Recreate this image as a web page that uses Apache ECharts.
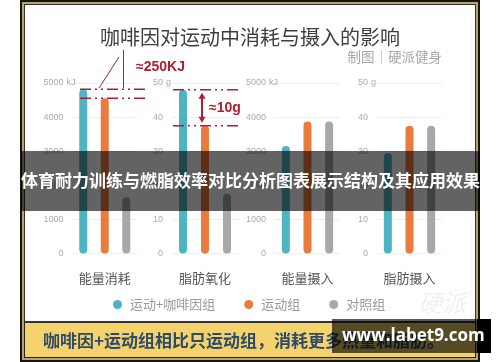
<!DOCTYPE html>
<html>
<head>
<meta charset="utf-8">
<script src="https://cdn.jsdelivr.net/npm/echarts@6/dist/echarts.min.js"></script>
<style>html,body{margin:0;padding:0;background:#fff}#c{width:500px;height:362px}</style>
</head>
<body>
<div id="c"></div>
<script>
// ---- data ----
const categories = ['能量消耗', '脂肪氧化', '能量摄入', '脂肪摄入'];
const groups = ['运动+咖啡因组', '运动组', '对照组'];
const units = ['kJ', 'g', 'kJ', 'g'];
const axisMax = [5000, 50, 5000, 50];
const axisInterval = [1000, 10, 1000, 10];
const caffeineExercise = [4820, 48, 3150, 29.5];
const exerciseOnly = [4550, 37.5, 3870, 37.5];
const control = [1650, 17.5, 3870, 37.5];
const diffLabels = ['≈250KJ', '≈10g'];
const titleText = '咖啡因对运动中消耗与摄入的影响';
const creditText = '制图｜硬派健身';
const bannerText = '体育耐力训练与燃脂效率对比分析图表展示结构及其应用效果';
const footerText = '咖啡因+运动组相比只运动组，消耗更多热量和脂肪。';
const siteText = 'www.labet9.com';

const colors = ['#4db4c1', '#e97b3c', '#a9a7ab'];
const seriesValues = [caffeineExercise, exerciseOnly, control];
const gridLefts = [72.5, 172, 275, 377];
const gridWidths = [64.5, 66, 65, 65];
const CJK = '"Noto Sans CJK SC", "Noto Sans", sans-serif';
const LAT = '"Liberation Sans", sans-serif';

const grids = [], xAxes = [], yAxes = [], series = [];
categories.forEach((cat, p) => {
  grids.push({ left: gridLefts[p], width: gridWidths[p], top: 83, bottom: 108.5 });
  xAxes.push({
    type: 'category', gridIndex: p, data: groups,
    axisLine: { show: false }, axisTick: { show: false }, axisLabel: { show: false },
    name: cat, nameLocation: 'middle', nameGap: 18.5,
    nameTextStyle: { fontSize: 13, color: '#555', fontFamily: CJK }
  });
  yAxes.push({
    type: 'value', gridIndex: p, min: 0, max: axisMax[p], interval: axisInterval[p],
    axisLine: { show: false }, axisTick: { show: false },
    axisLabel: { margin: 9, fontSize: 9, color: '#aaa', fontFamily: LAT, formatter: v => String(v) },
    splitLine: { lineStyle: { color: '#eeeeee', width: 1 } }
  });
  groups.forEach((g, s) => {
    const d = groups.map((_, k) => (k === s ? seriesValues[s][p] : null));
    series.push({
      name: g, type: 'bar', xAxisIndex: p, yAxisIndex: p, data: d,
      barWidth: 8, barGap: '-100%', silent: true,
      itemStyle: { color: colors[s], borderRadius: 4 }
    });
  });
});

const chart = echarts.init(document.getElementById('c'), null, { renderer: 'canvas' });
chart.setOption({
  animation: false,
  backgroundColor: '#ffffff',
  color: colors,
  textStyle: { fontFamily: CJK },
  title: {
    text: titleText, left: 'center', top: 22,
    textStyle: { fontSize: 20, fontWeight: 'normal', color: '#3e3e3e', fontFamily: CJK }
  },
  legend: {
    data: groups, icon: 'circle', itemWidth: 9, itemHeight: 9, itemGap: 29,
    left: 108, top: 293,
    textStyle: { fontSize: 13, color: '#9a9a9a', fontFamily: CJK, padding: [0, 0, 0, 3] }
  },
  grid: grids, xAxis: xAxes, yAxis: yAxes, series: series
});

// annotation positions from the library's scales
const yA1 = chart.convertToPixel({ yAxisIndex: 0 }, caffeineExercise[0]);
const yA2 = chart.convertToPixel({ yAxisIndex: 0 }, exerciseOnly[0]);
const yB1 = chart.convertToPixel({ yAxisIndex: 1 }, caffeineExercise[1]);
const yB2 = chart.convertToPixel({ yAxisIndex: 1 }, exerciseOnly[1]);
const red = '#b01e2e';
const dash = [11, 4, 2, 4, 2, 4];
const txt = (text, x, y, o) => ({
  type: 'text', z: o.z || 10,
  style: Object.assign({ text, x, y, align: 'left', verticalAlign: 'middle', fontFamily: CJK }, o.style)
});
const ln = (x1, y1, x2, y2, st, z) => ({ type: 'line', z: z || 20, shape: { x1, y1, x2, y2 }, style: st });

const unitTexts = units.map((u, p) => txt(u, gridLefts[p] - 6,
  chart.convertToPixel({ yAxisIndex: p }, axisMax[p]),
  { style: { fontSize: 9, fill: '#aaa', fontFamily: LAT } }));

chart.setOption({
  graphic: [
    // frame & backgrounds
    { type: 'rect', z: -100, shape: { x: 20, y: 0, width: 460, height: 362 }, style: { fill: '#151515' } },
    { type: 'rect', z: -99, shape: { x: 22, y: 2, width: 456, height: 358 }, style: { fill: '#b9a568' } },
    { type: 'rect', z: -98, shape: { x: 24, y: 4, width: 452, height: 354 }, style: { fill: '#222' } },
    { type: 'rect', z: -97, shape: { x: 25, y: 5, width: 450, height: 352 }, style: { fill: '#f5d36c' } },
    { type: 'rect', z: -96, shape: { x: 24, y: 4, width: 452, height: 319 }, style: { fill: '#333' } },
    { type: 'rect', z: -95, shape: { x: 25, y: 5, width: 450, height: 316 }, style: { fill: '#ffffff' } },
    txt('硬派', 418, 303, { z: -90, style: { fontSize: 24, fill: '#f1f1f1', fontStyle: 'italic' } }),
    txt(creditText, 442, 57, { style: { fontSize: 13.5, fill: '#a8a8a8', align: 'right' } }),
    txt(footerText, 43, 341, { style: { fontSize: 17, fontWeight: 'bold', fill: '#2d4a6c' } }),
    ...unitTexts,
    // annotations panel 1
    ln(80, yA1, 147, yA1, { stroke: red, lineWidth: 1.5, lineDash: dash }),
    ln(80, yA2, 147, yA2, { stroke: red, lineWidth: 1.5, lineDash: dash }),
    ln(99, yA1 - 1, 119, 57, { stroke: red, lineWidth: 1 }),
    ln(123.5, 50, 123.5, yA1 - 1, { stroke: red, lineWidth: 1 }),
    txt(diffLabels[0], 136, 67, { z: 20, style: { fontSize: 14, fontWeight: 'bold', fill: red, fontFamily: LAT } }),
    // annotations panel 2
    ln(173, yB1, 240, yB1, { stroke: red, lineWidth: 1.5, lineDash: dash }),
    ln(173, yB2, 240, yB2, { stroke: red, lineWidth: 1.5, lineDash: dash }),
    ln(202, yB1 + 6, 202, yB2 - 6, { stroke: red, lineWidth: 2 }),
    { type: 'polygon', z: 20, shape: { points: [[202, yB1 + 3], [198.5, yB1 + 9], [205.5, yB1 + 9]] }, style: { fill: red } },
    { type: 'polygon', z: 20, shape: { points: [[202, yB2 - 3], [198.5, yB2 - 9], [205.5, yB2 - 9]] }, style: { fill: red } },
    txt(diffLabels[1], 209, (yB1 + yB2) / 2, { z: 20, style: { fontSize: 14, fontWeight: 'bold', fill: red, fontFamily: LAT } }),
    // overlay banner
    { type: 'rect', z: 100, shape: { x: 21, y: 151, width: 459, height: 60 }, style: { fill: 'rgba(0,0,0,0.61)' } },
    txt(bannerText, 250.5, 181, { z: 101, style: { fontSize: 17, fontWeight: 'bold', fill: '#ffffff', align: 'center' } }),
    // site box
    { type: 'rect', z: 100, shape: { x: 332, y: 319, width: 145, height: 34 }, style: { fill: 'rgba(0,0,0,0.65)' } },
    { type: 'rect', z: 100, shape: { x: 477, y: 319, width: 14, height: 34 }, style: { fill: '#000' } },
    txt(siteText, 342, 336, { z: 101, style: { fontSize: 17, fontWeight: 'bold', fill: '#ffffff', fontFamily: '"Open Sans", "Liberation Sans", sans-serif' } })
  ]
});
</script>
</body>
</html>
